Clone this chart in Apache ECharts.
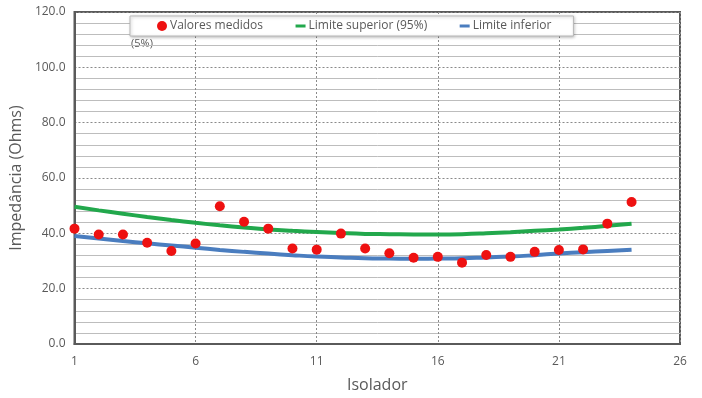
<!DOCTYPE html>
<html>
<head>
<meta charset="utf-8">
<script src="https://cdn.jsdelivr.net/npm/echarts@6/dist/echarts.min.js"></script>
<style>
  html, body { margin: 0; padding: 0; background: #fff; }
  #chart { width: 702px; height: 398px; }
</style>
</head>
<body>
<div id="chart"></div>
<script>
// Isolator numbers (x) and measured impedance in ohms
const isoladores = [1, 2, 3, 4, 5, 6, 7, 8, 9, 10, 11, 12, 13, 14, 15, 16, 17, 18, 19, 20, 21, 22, 23, 24];
const valoresMedidos = [41.7, 39.6, 39.6, 36.6, 33.6, 36.3, 49.8, 44.2, 41.7, 34.5, 34.1, 39.9,
                        34.5, 32.8, 31.2, 31.5, 29.4, 32.2, 31.5, 33.3, 34.0, 34.2, 43.5, 51.3];
// Upper (95%) and lower (5%) limit curves
const limiteSuperior = [49.6, 48.3, 47.1, 45.9, 44.8, 43.8, 42.9, 42.1, 41.4, 40.9, 40.5, 40.1,
                        39.8, 39.7, 39.6, 39.6, 39.7, 40.0, 40.4, 40.9, 41.4, 42.0, 42.7, 43.5];
const limiteInferior = [39.0, 38.1, 37.2, 36.4, 35.6, 34.8, 34.0, 33.3, 32.7, 32.1, 31.6, 31.3,
                        31.0, 30.9, 30.8, 30.9, 31.0, 31.3, 31.6, 32.1, 32.7, 33.2, 33.6, 34.1];

const pairs = (ys) => isoladores.map((x, i) => [x, ys[i]]);

const textColor = '#595959';
const font = '"Open Sans", "Liberation Sans", sans-serif';
const green = '#22a84c';
const blue = '#4a7dbf';

const chart = echarts.init(document.getElementById('chart'), null, { renderer: 'canvas' });

// legend entry for a limit curve: a short line with no marker
const lineEntry = (name, color) => ({
  name,
  itemStyle: { color: 'rgba(0,0,0,0)', borderWidth: 0, opacity: 0 },
  lineStyle: { color, width: 3, opacity: 1 }
});

chart.setOption({
  animation: false,
  backgroundColor: '#ffffff',
  textStyle: { fontFamily: font },
  grid: {
    left: 71, right: 22, top: 12, bottom: 53,
    show: true, borderColor: '#5a5a5a', borderWidth: 2, backgroundColor: 'transparent'
  },
  legend: {
    left: 130, top: 16,
    padding: [4, 22, 4, 27],
    backgroundColor: '#ffffff',
    borderColor: '#b8b8b8', borderWidth: 1,
    shadowColor: 'rgba(0,0,0,0.25)', shadowBlur: 3, shadowOffsetX: 1, shadowOffsetY: 1,
    itemWidth: 10, itemHeight: 10, itemGap: 31,
    textStyle: { color: textColor, fontSize: 12, fontFamily: font, padding: [0, 0, 0, -2] },
    data: [
      { name: 'Valores medidos', icon: 'circle' },
      lineEntry('Limite superior (95%)', green),
      lineEntry('Limite inferior', blue)
    ]
  },
  graphic: [{
    type: 'text', left: 131, top: 38,
    style: { text: '(5%)', fill: textColor, font: '11px ' + font }
  }],
  xAxis: {
    type: 'value', min: 1, max: 26, interval: 5,
    name: 'Isolador', nameLocation: 'middle', nameGap: 33,
    nameTextStyle: { color: textColor, fontSize: 16, fontFamily: font },
    axisLine: { show: true, lineStyle: { color: '#5a5a5a', width: 2 } },
    axisTick: { show: false },
    axisLabel: { color: textColor, fontSize: 12, margin: 12, fontFamily: font },
    splitLine: { show: true, lineStyle: { color: '#8a8a8a', type: [2, 2], width: 1 } }
  },
  yAxis: {
    type: 'value', min: 0, max: 120, interval: 20,
    name: 'Impedância (Ohms)', nameLocation: 'middle', nameGap: 39,
    nameTextStyle: { color: textColor, fontSize: 16, fontFamily: font },
    axisLine: { show: true, lineStyle: { color: '#5a5a5a', width: 2 } },
    axisTick: { show: false },
    axisLabel: { color: textColor, fontSize: 12, margin: 9, fontFamily: font,
                 formatter: (v) => v.toFixed(1) },
    splitLine: { show: true, lineStyle: { color: '#8a8a8a', type: [2, 2], width: 1 } },
    minorTick: { show: false, splitNumber: 5 },
    minorSplitLine: { show: true, lineStyle: { color: '#bdbdbd', width: 1 } }
  },
  series: [
    {
      name: 'Limite superior (95%)', type: 'line', data: pairs(limiteSuperior),
      smooth: true, showSymbol: false, symbol: 'none', z: 2,
      lineStyle: { color: green, width: 4 }, itemStyle: { color: green }
    },
    {
      name: 'Limite inferior', type: 'line', data: pairs(limiteInferior),
      smooth: true, showSymbol: false, symbol: 'none', z: 2,
      lineStyle: { color: blue, width: 4 }, itemStyle: { color: blue }
    },
    {
      name: 'Valores medidos', type: 'scatter', data: pairs(valoresMedidos),
      symbol: 'circle', symbolSize: 10, z: 3,
      itemStyle: { color: '#ee1111', opacity: 1 }
    }
  ]
});
</script>
</body>
</html>
